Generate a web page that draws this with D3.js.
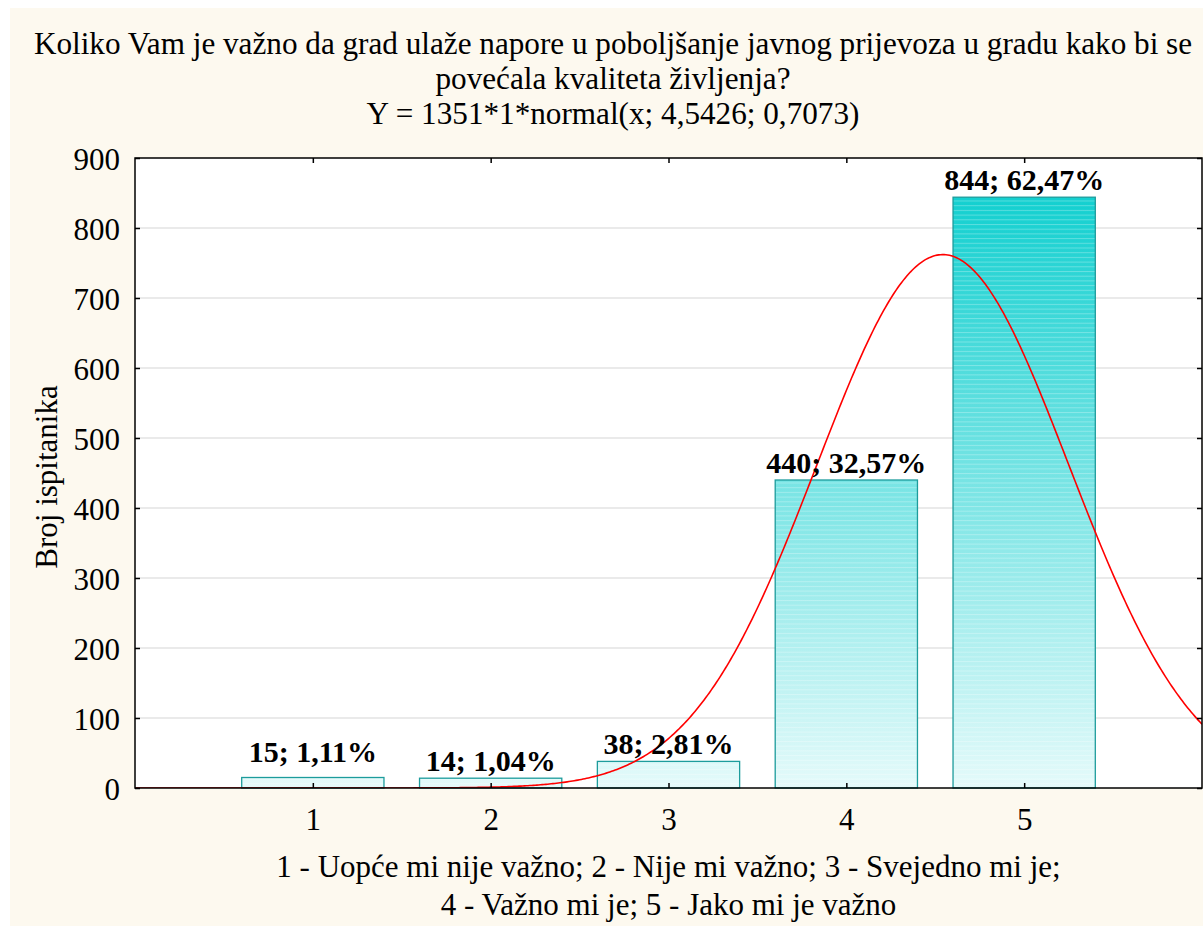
<!DOCTYPE html>
<html><head><meta charset="utf-8">
<script src="https://cdn.jsdelivr.net/npm/d3@7"></script>
<style>
body{margin:0;background:#fff}
svg{display:block}
text{font-family:"Liberation Serif","Times New Roman",serif;fill:#000}
</style>
</head><body>
<svg id="c" width="1203" height="926"></svg>
<script>
const categories = [1, 2, 3, 4, 5];
const counts = [15, 14, 38, 440, 844];
const percents = ["1,11%", "1,04%", "2,81%", "32,57%", "62,47%"];
const yTicks = [0, 100, 200, 300, 400, 500, 600, 700, 800, 900];
const titleLines = [
  "Koliko Vam je važno da grad ulaže napore u poboljšanje javnog prijevoza u gradu kako bi se",
  "povećala kvaliteta življenja?",
  "Y = 1351*1*normal(x; 4,5426; 0,7073)"
];
const xTitleLines = [
  "1 - Uopće mi nije važno; 2 - Nije mi važno; 3 - Svejedno mi je;",
  "4 - Važno mi je; 5 - Jako mi je važno"
];
const yTitle = "Broj ispitanika";
const fitN = 1351, fitMean = 4.5426, fitSd = 0.7073;

const svg = d3.select("#c");
const W = 1203, H = 926;
const m = {left: 135, right: 1202, top: 158, bottom: 788};
const FONT = '"Liberation Serif","Times New Roman",serif';

svg.append("rect").attr("x", 10).attr("y", 8).attr("width", W - 10).attr("height", H - 8).attr("fill", "#fdf9ef");

const x = d3.scaleLinear().domain([0, 6]).range([m.left, m.right]);
const y = d3.scaleLinear().domain([0, 900]).range([m.bottom, m.top]);

const defs = svg.append("defs");
const grad = defs.append("linearGradient").attr("id", "g").attr("gradientUnits", "userSpaceOnUse")
  .attr("x1", 0).attr("x2", 0).attr("y1", y(0)).attr("y2", y(860));
grad.append("stop").attr("offset", 0).attr("stop-color", "#e4fafa");
grad.append("stop").attr("offset", 1).attr("stop-color", "#0fcfcf");
const pat = defs.append("pattern").attr("id", "p").attr("patternUnits", "userSpaceOnUse")
  .attr("width", 10).attr("height", 4.7).attr("x", 0).attr("y", y(0));
pat.append("rect").attr("x", 0).attr("y", 0).attr("width", 10).attr("height", 1).attr("fill", "#fff").attr("opacity", 0.28);
defs.append("clipPath").attr("id", "clip").append("rect")
  .attr("x", m.left).attr("y", m.top).attr("width", m.right - m.left).attr("height", m.bottom - m.top);

// plot background
svg.append("rect").attr("x", m.left).attr("y", m.top).attr("width", m.right - m.left).attr("height", m.bottom - m.top).attr("fill", "#fff");

// grid
svg.append("g").selectAll("line").data(yTicks.filter(d => d > 0 && d < 900)).join("line")
  .attr("x1", m.left).attr("x2", m.right).attr("y1", d => y(d)).attr("y2", d => y(d))
  .attr("stroke", "#d6d6d6").attr("stroke-width", 1.2);

// bars
const bw = x(0.8) - x(0);
const bars = svg.append("g");
bars.selectAll("rect.f").data(categories).join("rect").attr("class", "f")
  .attr("x", (d) => x(d) - bw / 2).attr("width", bw)
  .attr("y", (d, i) => y(counts[i])).attr("height", (d, i) => y(0) - y(counts[i]))
  .attr("fill", "url(#g)");
bars.selectAll("rect.p").data(categories).join("rect").attr("class", "p")
  .attr("x", (d) => x(d) - bw / 2).attr("width", bw)
  .attr("y", (d, i) => y(counts[i])).attr("height", (d, i) => y(0) - y(counts[i]))
  .attr("fill", "url(#p)").attr("stroke", "#1d9c9c").attr("stroke-width", 1.3);

// fitted curve
const xs = d3.range(0, 6.0001, 0.01);
const pdf = v => fitN * Math.exp(-0.5 * Math.pow((v - fitMean) / fitSd, 2)) / (fitSd * Math.sqrt(2 * Math.PI));
svg.append("path").datum(xs).attr("clip-path", "url(#clip)")
  .attr("d", d3.line().x(d => x(d)).y(d => y(pdf(d))))
  .attr("fill", "none").attr("stroke", "#ff0000").attr("stroke-width", 1.6);

// frame
svg.append("rect").attr("x", m.left).attr("y", m.top).attr("width", m.right - m.left).attr("height", m.bottom - m.top)
  .attr("fill", "none").attr("stroke", "#000").attr("stroke-width", 1.5);

// axes (ticks inward)
const yAxisL = d3.axisLeft(y).tickValues(yTicks).tickSize(-5).tickFormat(d3.format("d"));
const gL = svg.append("g").attr("transform", `translate(${m.left},0)`).call(yAxisL);
const yAxisR = d3.axisRight(y).tickValues(yTicks).tickSize(-5).tickFormat("");
const gR = svg.append("g").attr("transform", `translate(${m.right},0)`).call(yAxisR);
const xAxisB = d3.axisBottom(x).tickValues(categories).tickSize(-5).tickFormat(d3.format("d"));
const gB = svg.append("g").attr("transform", `translate(0,${m.bottom})`).call(xAxisB);
const xAxisT = d3.axisTop(x).tickValues(categories).tickSize(-5).tickFormat("");
const gT = svg.append("g").attr("transform", `translate(0,${m.top})`).call(xAxisT);
[gL, gR, gB, gT].forEach(g => {
  g.attr("font-family", null).attr("font-size", null);
  g.select(".domain").remove();
  g.selectAll(".tick line").attr("stroke", "#000").attr("stroke-width", 1.5);
  g.selectAll("text").style("font-family", FONT).style("font-size", "31px").attr("fill", "#000");
});
gL.selectAll("text").attr("dy", "0.36em").attr("x", -15);
gB.selectAll("text").attr("dy", "0").attr("y", 42);

// bar labels
svg.append("g").selectAll("text").data(categories).join("text")
  .attr("x", d => x(d)).attr("y", (d, i) => y(counts[i]) - (i === 0 ? 16 : 7))
  .attr("text-anchor", "middle").style("font-size", "30px").style("font-weight", "bold")
  .text((d, i) => `${counts[i]}; ${percents[i]}`);

// titles
svg.append("g").selectAll("text").data(titleLines).join("text")
  .attr("x", 613).attr("y", (d, i) => 54 + i * 35).attr("text-anchor", "middle").style("font-size", "31.2px").text(d => d);
svg.append("g").selectAll("text").data(xTitleLines).join("text")
  .attr("x", (m.left + m.right) / 2).attr("y", (d, i) => 877 + i * 38).attr("text-anchor", "middle").style("font-size", "31px").text(d => d);
svg.append("text").attr("transform", `translate(57,477) rotate(-90)`).attr("text-anchor", "middle")
  .style("font-size", "31px").text(yTitle);
</script>
</body></html>
